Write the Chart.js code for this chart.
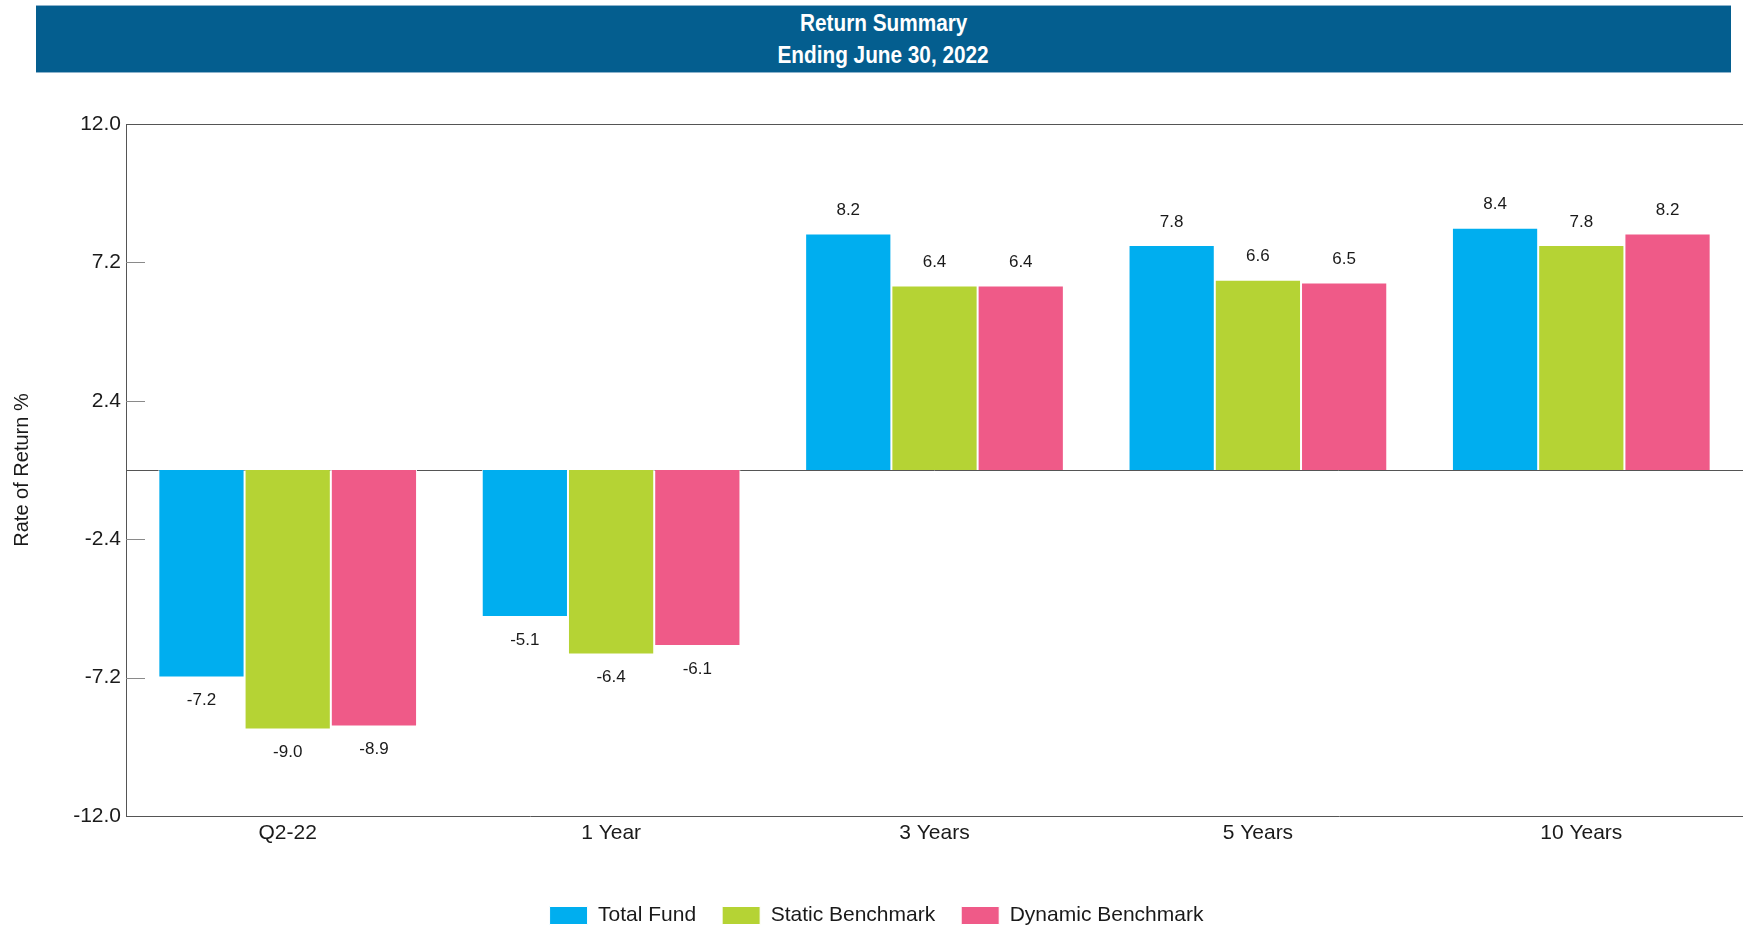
<!DOCTYPE html>
<html>
<head>
<meta charset="utf-8">
<title>Return Summary</title>
<script src="https://cdn.jsdelivr.net/npm/chart.js@4.4.1/dist/chart.umd.min.js"></script>
<style>
  html, body { margin: 0; padding: 0; background: #ffffff; overflow: hidden; }
  #wrap { position: relative; width: 1743px; height: 928px; }
  #banner {
    position: absolute; left: 36px; top: 5px; width: 1695px; height: 66px;
    background: #045e8f; border-top: 1px solid #8db3cc; border-bottom: 1px solid #8db3cc;
    color: #ffffff; text-align: center;
    font-family: 'Liberation Sans', Arial, sans-serif;
    font-weight: bold; font-size: 24px; line-height: 32px;
  }
  #banner .line { padding-top: 1px; height: 31px; }
  #banner span { display: inline-block; transform: scaleX(0.865); transform-origin: 50% 50%; }
  canvas { position: absolute; left: 0; top: 0; }
</style>
</head>
<body>
<div id="wrap">
  <div id="banner">
    <div class="line"><span>Return Summary</span></div>
    <div class="line"><span>Ending June 30, 2022</span></div>
  </div>
  <canvas id="chart" width="1743" height="928"></canvas>
</div>
<script>
// Periods on the x axis
const categories = ['Q2-22', '1 Year', '3 Years', '5 Years', '10 Years'];

// Rate of return (%) per period
const totalFund        = [-7.2, -5.1, 8.2, 7.8, 8.4];
const staticBenchmark  = [-9.0, -6.4, 6.4, 6.6, 7.8];
const dynamicBenchmark = [-8.9, -6.1, 6.4, 6.5, 8.2];

// Value axis tick labels
const yTicks = [-12.0, -7.2, -2.4, 2.4, 7.2, 12.0];

const FONT = "'Liberation Sans', Arial, sans-serif";

// Zero line and short inward tick marks, drawn behind the bars
const axisMarks = {
  id: 'axisMarks',
  beforeDatasetsDraw(chart) {
    const { ctx, chartArea } = chart;
    const y = chart.scales.y;
    ctx.save();
    ctx.lineWidth = 1;
    ctx.strokeStyle = '#8a8a8a';
    yTicks.forEach(v => {
      if (Math.abs(v) === 12) return;
      const py = Math.round(y.getPixelForValue(v)) + 0.5;
      ctx.beginPath();
      ctx.moveTo(chartArea.left, py);
      ctx.lineTo(chartArea.left + 19, py);
      ctx.stroke();
    });
    ctx.strokeStyle = '#555555';
    const z = Math.round(y.getPixelForValue(0)) + 0.5;
    ctx.beginPath();
    ctx.moveTo(chartArea.left, z);
    ctx.lineTo(chartArea.right, z);
    ctx.stroke();
    ctx.restore();
  }
};

// Value labels above positive bars and below negative bars
const barValues = {
  id: 'barValues',
  afterDatasetsDraw(chart) {
    const { ctx } = chart;
    ctx.save();
    ctx.font = '17px ' + FONT;
    ctx.fillStyle = '#1a1a1a';
    ctx.textAlign = 'center';
    ctx.textBaseline = 'middle';
    chart.data.datasets.forEach((ds, i) => {
      const meta = chart.getDatasetMeta(i);
      meta.data.forEach((bar, j) => {
        const v = ds.data[j];
        const off = v >= 0 ? -23 : 23;
        ctx.fillText(v.toFixed(1), bar.x, bar.y + off);
      });
    });
    ctx.restore();
  }
};

new Chart(document.getElementById('chart'), {
  type: 'bar',
  data: {
    labels: categories,
    datasets: [
      { label: 'Total Fund', data: totalFund, backgroundColor: '#00aeef' },
      { label: 'Static Benchmark', data: staticBenchmark, backgroundColor: '#b5d334' },
      { label: 'Dynamic Benchmark', data: dynamicBenchmark, backgroundColor: '#ef5a88' }
    ].map(d => Object.assign(d, {
      borderColor: '#ffffff', borderWidth: 1,
      categoryPercentage: 0.8, barPercentage: 1.0
    }))
  },
  options: {
    responsive: false,
    animation: false,
    layout: { padding: { top: 124, right: 0, bottom: -8, left: 10 } },
    plugins: {
      title: { display: false },
      tooltip: { enabled: false },
      legend: {
        position: 'bottom',
        labels: {
          boxWidth: 38, boxHeight: 18, padding: 26,
          color: '#1a1a1a',
          font: { family: FONT, size: 21 }
        }
      }
    },
    scales: {
      x: {
        grid: { display: false, drawTicks: false },
        border: { display: true, color: '#555555', width: 1 },
        ticks: { color: '#1a1a1a', padding: 5, font: { family: FONT, size: 21 } },
        afterFit(scale) { scale.height = 63; }
      },
      y: {
        min: -12, max: 12,
        afterBuildTicks(scale) { scale.ticks = yTicks.map(v => ({ value: v })); },
        grid: {
          drawTicks: false,
          color: c => (c.tick && c.tick.value === 12 ? '#555555' : 'rgba(0,0,0,0)')
        },
        border: { display: true, color: '#555555', width: 1 },
        ticks: {
          color: '#1a1a1a', padding: 5,
          font: { family: FONT, size: 21 },
          callback: v => Number(v).toFixed(1)
        },
        title: {
          display: true, text: 'Rate of Return %', color: '#1a1a1a',
          font: { family: FONT, size: 20 }, padding: { top: 0, bottom: 0 }
        },
        afterFit(scale) { scale.width = 116; }
      }
    }
  },
  plugins: [axisMarks, barValues]
});
</script>
</body>
</html>
